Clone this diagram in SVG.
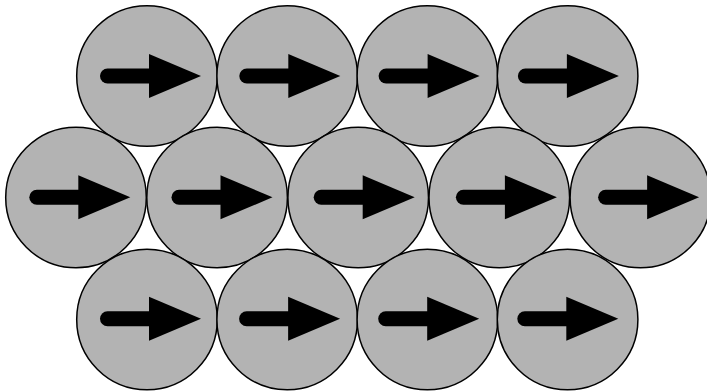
<svg xmlns="http://www.w3.org/2000/svg" xmlns:xlink="http://www.w3.org/1999/xlink" width="707" height="392" viewBox="0 0 707 392">
<style>
.disc{fill:#b3b3b3;stroke:#000;stroke-width:1.5}
.shaft{stroke:#000;stroke-width:15;stroke-linecap:round;fill:none}
.head{fill:#000}
</style>
<defs>
<circle id="disc" class="disc" cx="0" cy="0" r="70.3"/>
<g id="arrow">
<line class="shaft" x1="7.5" y1="0" x2="52" y2="0"/>
<polygon class="head" points="49,-22 101,0 49,22"/>
</g>
</defs>
<rect width="707" height="392" fill="#fff"/>
<g id="row1">
<g id="n1"><use xlink:href="#disc" x="147" y="76"/><use xlink:href="#arrow" x="100" y="76"/></g>
<g id="n2"><use xlink:href="#disc" x="287.2" y="76"/><use xlink:href="#arrow" x="239.3" y="76"/></g>
<g id="n3"><use xlink:href="#disc" x="427.4" y="76"/><use xlink:href="#arrow" x="378.6" y="76"/></g>
<g id="n4"><use xlink:href="#disc" x="567.6" y="76"/><use xlink:href="#arrow" x="517.9" y="76"/></g>
</g>
<g id="row2">
<g id="n5"><use xlink:href="#disc" x="76" y="197.5"/><use xlink:href="#arrow" x="29.3" y="197.3"/></g>
<g id="n6"><use xlink:href="#disc" x="217.1" y="197.5"/><use xlink:href="#arrow" x="171.5" y="197.3"/></g>
<g id="n7"><use xlink:href="#disc" x="358.2" y="197.5"/><use xlink:href="#arrow" x="313.7" y="197.3"/></g>
<g id="n8"><use xlink:href="#disc" x="499.3" y="197.5"/><use xlink:href="#arrow" x="455.9" y="197.3"/></g>
<g id="n9"><use xlink:href="#disc" x="640.4" y="197.5"/><use xlink:href="#arrow" x="598.1" y="197.3"/></g>
</g>
<g id="row3">
<g id="n10"><use xlink:href="#disc" x="147" y="319.5"/><use xlink:href="#arrow" x="100" y="318.7"/></g>
<g id="n11"><use xlink:href="#disc" x="287.2" y="319.5"/><use xlink:href="#arrow" x="239.1" y="318.7"/></g>
<g id="n12"><use xlink:href="#disc" x="427.4" y="319.5"/><use xlink:href="#arrow" x="378.2" y="318.7"/></g>
<g id="n13"><use xlink:href="#disc" x="567.6" y="319.5"/><use xlink:href="#arrow" x="517.3" y="318.7"/></g>
</g>
<g id="connectors"/>
</svg>
